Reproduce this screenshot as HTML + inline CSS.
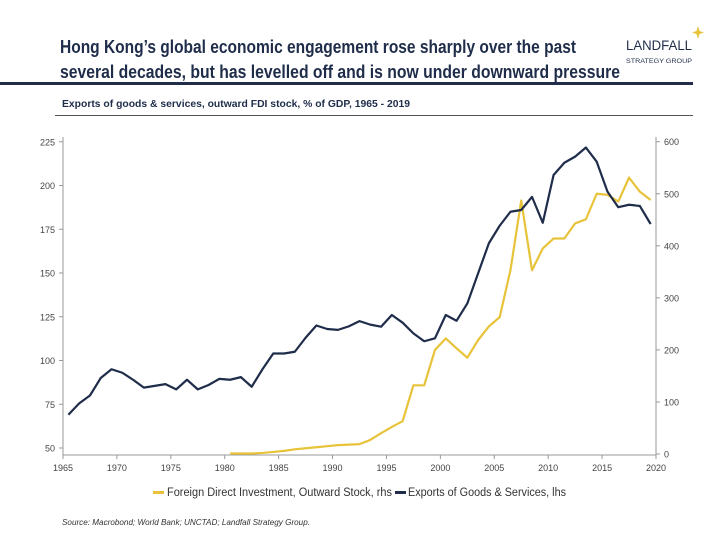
<!DOCTYPE html>
<html><head><meta charset="utf-8">
<style>
body{margin:0;background:#fff;width:720px;height:540px;overflow:hidden;font-family:"Liberation Sans",sans-serif;}
</style></head>
<body>
<svg width="720" height="540" xmlns="http://www.w3.org/2000/svg">
<text x="60" y="53" font-size="18" font-weight="bold" fill="#1f2d4a" textLength="516" lengthAdjust="spacingAndGlyphs">Hong Kong’s global economic engagement rose sharply over the past</text>
<text x="60" y="78" font-size="18" font-weight="bold" fill="#1f2d4a" textLength="560" lengthAdjust="spacingAndGlyphs">several decades, but has levelled off and is now under downward pressure</text>
<g>
<text x="692" y="50" font-size="14" fill="#1f2d4a" text-anchor="end" textLength="66" lengthAdjust="spacingAndGlyphs">LANDFALL</text>
<text x="692" y="63" font-size="6.5" fill="#1f2d4a" text-anchor="end" textLength="66" lengthAdjust="spacingAndGlyphs">STRATEGY GROUP</text>
<path d="M698 26 L699.5 31 L704 32.5 L699.5 34 L698 39 L696.5 34 L692 32.5 L696.5 31 Z" fill="#e8c33a"/>
</g>
<rect x="0" y="82" width="693" height="3" fill="#1f2d4a"/>
<text x="62" y="107" font-size="10.5" font-weight="bold" fill="#1f2d4a" textLength="348" lengthAdjust="spacingAndGlyphs">Exports of goods &amp; services, outward FDI stock, % of GDP, 1965 - 2019</text>
<rect x="55" y="115" width="638" height="1" fill="#555"/>
<g id="plot"></g>
<g>
<rect x="153" y="491" width="11" height="3" fill="#e8c33a"/>
<text x="167" y="496" font-size="11.5" fill="#333" textLength="225" lengthAdjust="spacingAndGlyphs">Foreign Direct Investment, Outward Stock, rhs</text>
<rect x="395" y="491" width="11" height="3" fill="#1f2d4a"/>
<text x="408" y="496" font-size="11.5" fill="#333" textLength="158" lengthAdjust="spacingAndGlyphs">Exports of Goods &amp; Services, lhs</text>
</g>
<text x="62" y="525" font-size="8" font-style="italic" fill="#333" textLength="248" lengthAdjust="spacingAndGlyphs">Source: Macrobond;  World Bank; UNCTAD; Landfall Strategy Group.</text>
</svg>
<script>
const years=[];for(let y=1965;y<=2019;y++)years.push(y);
const exportsVals=[69,75.5,80,90,95,93,89,84.5,85.5,86.5,83.5,89,83.5,86,89.5,89,90.5,85,95,104,104,105,113,120,118,117.5,119.5,122.5,120.5,119.3,126,121.6,115.5,111,112.7,126,122.7,132.6,149.8,167,177,185,186,193.5,178.7,206,213,216.5,221.7,213.6,196.5,187.6,189,188.3,178];
const fdiYears=[];for(let y=1980;y<=2019;y++)fdiYears.push(y);
const fdiVals=[1,1,1,2,4,6,9,11,13,15,17,18,19,27,40,52,63,132,132,200,222,203,185,219,245,263,353,487,353,395,414,414,443,451,500,498,485,531,504,488];
const xTicks=[1965,1970,1975,1980,1985,1990,1995,2000,2005,2010,2015,2020];
const lTicks=[50,75,100,125,150,175,200,225];
const rTicks=[0,100,200,300,400,500,600];
const X0=63,X1=656,YB=455;
const sx=y=>X0+(y-1965)/55*(X1-X0);
const syL=v=>448-(v-50)*1.75;
const syR=v=>454-v*0.5205;
const ns='http://www.w3.org/2000/svg';
const g=document.getElementById('plot');
function mk(t,a){const e=document.createElementNS(ns,t);for(const k in a)e.setAttribute(k,a[k]);g.appendChild(e);return e;}
let e=mk('line',{x1:X0,y1:137,x2:X0,y2:YB,stroke:'#999'});

e=mk('line',{x1:X1,y1:137,x2:X1,y2:YB,stroke:'#999'});

e=mk('line',{x1:X0,y1:YB,x2:X1,y2:YB,stroke:'#999'});

xTicks.forEach(t=>{mk('line',{x1:sx(t),y1:YB,x2:sx(t),y2:YB+4,stroke:'#999'});
 e=mk('text',{x:sx(t),y:YB+16,'font-size':9,fill:'#444','text-anchor':'middle'});e.textContent=t;
 });
lTicks.forEach(t=>{mk('line',{x1:X0-4,y1:syL(t),x2:X0,y2:syL(t),stroke:'#999'});
 e=mk('text',{x:X0-8,y:syL(t)+3.5,'font-size':9,fill:'#444','text-anchor':'end'});e.textContent=t;
 });
rTicks.forEach(t=>{mk('line',{x1:X1,y1:syR(t),x2:X1+4,y2:syR(t),stroke:'#999'});
 e=mk('text',{x:X1+8,y:syR(t)+3.5,'font-size':9,fill:'#444'});e.textContent=t;
 });
e=mk('polyline',{points:fdiYears.map((y,i)=>sx(y+0.5)+','+syR(fdiVals[i])).join(' '),fill:'none',stroke:'#e8c33a','stroke-width':2.2,'stroke-linejoin':'round'});

e=mk('polyline',{points:years.map((y,i)=>sx(y+0.5)+','+syL(exportsVals[i])).join(' '),fill:'none',stroke:'#1f2d4a','stroke-width':2.2,'stroke-linejoin':'round'});

</script>
</body></html>
